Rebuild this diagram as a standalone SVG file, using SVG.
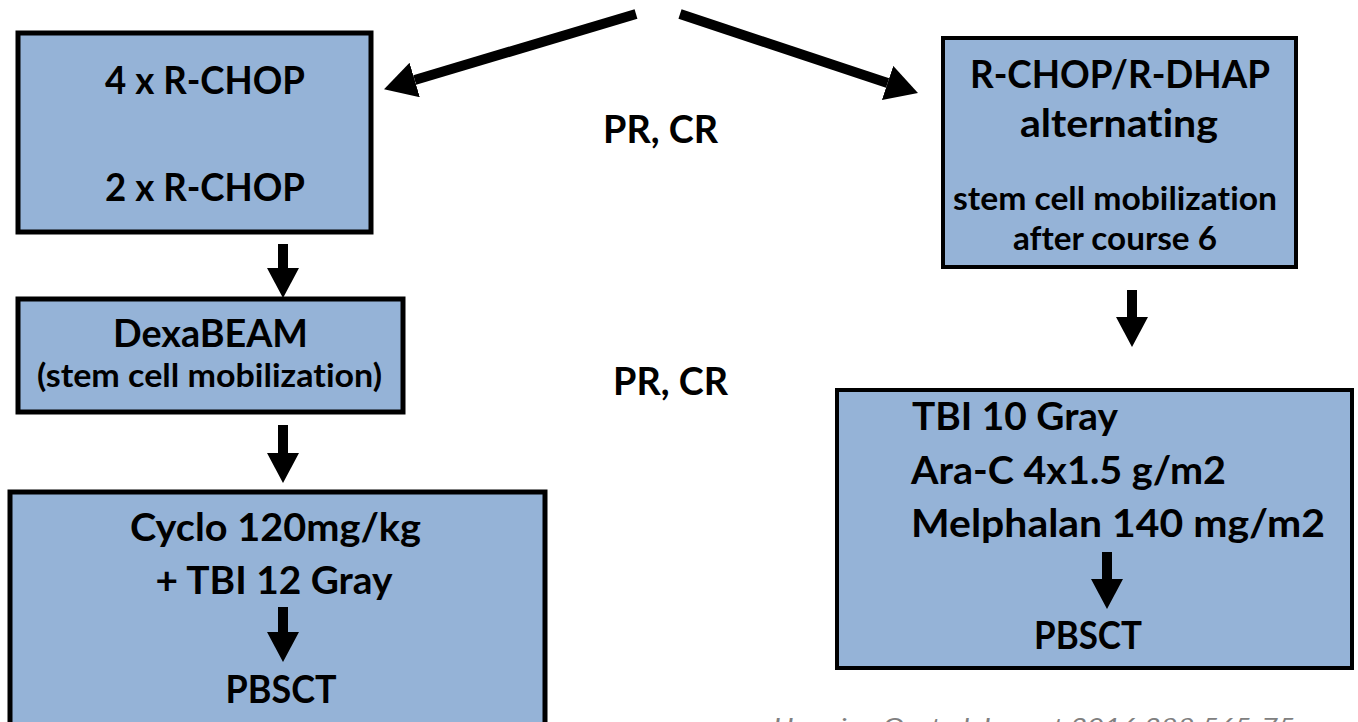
<svg xmlns="http://www.w3.org/2000/svg" width="1358" height="722" viewBox="0 0 1358 722">
  <style>
    .box { fill: #95B3D7; stroke: #000; stroke-width: 5; }
    .box.thin { stroke-width: 4; }
    text { font-variant-ligatures: none; font-feature-settings: "liga" 0, "clig" 0; }
    .t { font-family: Lato, "Liberation Sans", sans-serif; font-weight: 700; font-size: 39px; fill: #000; }
    .s { font-family: Lato, "Liberation Sans", sans-serif; font-weight: 700; font-size: 32px; fill: #000; }
    .c { text-anchor: middle; }
    .cite { font-family: Lato, "Liberation Sans", sans-serif; font-style: italic; font-size: 24px; fill: #808080; }
    .shaft { stroke: #000; stroke-width: 10; fill: none; }
  </style>
  <defs>
    <marker id="head" viewBox="0 0 30 32" refX="0" refY="16" markerWidth="30" markerHeight="32" markerUnits="userSpaceOnUse" orient="auto">
      <path d="M0,0 L30,16 L0,32 Z" fill="#000"/>
    </marker>
    <marker id="headLg" viewBox="0 0 32 36" refX="0" refY="18" markerWidth="32" markerHeight="36" markerUnits="userSpaceOnUse" orient="auto">
      <path d="M0,0 L32,18 L0,36 Z" fill="#000"/>
    </marker>
  </defs>

  <!-- connectors -->
  <g id="connectors">
    <!-- split into the two arms -->
    <line class="shaft" x1="636" y1="14" x2="414.7" y2="80" marker-end="url(#headLg)"/>
    <line class="shaft" x1="680" y1="14" x2="887.6" y2="83" marker-end="url(#headLg)"/>
    <!-- left arm -->
    <line class="shaft" x1="283" y1="244" x2="283" y2="268" marker-end="url(#head)"/>
    <line class="shaft" x1="283" y1="425" x2="283" y2="453" marker-end="url(#head)"/>
    <!-- right arm -->
    <line class="shaft" x1="1132" y1="290" x2="1132" y2="317" marker-end="url(#head)"/>
  </g>

  <g id="rchop">
    <rect class="box" x="18" y="33" width="353" height="199"/>
    <text class="t c" x="205" y="94" textLength="200" lengthAdjust="spacingAndGlyphs">4 x R-CHOP</text>
    <text class="t c" x="205" y="201" textLength="200" lengthAdjust="spacingAndGlyphs">2 x R-CHOP</text>
  </g>

  <g id="dexabeam">
    <rect class="box" x="18" y="299" width="385" height="113"/>
    <text class="t c" x="210.5" y="347" textLength="195" lengthAdjust="spacingAndGlyphs">DexaBEAM</text>
    <text class="s c" x="209.5" y="387" textLength="345" lengthAdjust="spacingAndGlyphs">(stem cell mobilization)</text>
  </g>

  <g id="cyclo-tbi">
    <rect class="box" x="10" y="492" width="535" height="240"/>
    <text class="t c" x="275.5" y="541" textLength="291" lengthAdjust="spacingAndGlyphs">Cyclo 120mg/kg</text>
    <text class="t c" x="274" y="594" textLength="237" lengthAdjust="spacingAndGlyphs">+ TBI 12 Gray</text>
    <line class="shaft" x1="283" y1="607" x2="283" y2="632" marker-end="url(#head)"/>
    <text class="t c" x="281" y="703" textLength="111" lengthAdjust="spacingAndGlyphs">PBSCT</text>
  </g>

  <g id="response-1">
    <text class="t c" x="660.5" y="143" textLength="115" lengthAdjust="spacingAndGlyphs">PR, CR</text>
  </g>
  <g id="response-2">
    <text class="t c" x="670.5" y="395" textLength="115" lengthAdjust="spacingAndGlyphs">PR, CR</text>
  </g>

  <g id="rchop-rdhap">
    <rect class="box thin" x="943" y="38" width="353" height="229"/>
    <text class="t c" x="1120" y="88" textLength="300" lengthAdjust="spacingAndGlyphs">R-CHOP/R-DHAP</text>
    <text class="t c" x="1119" y="137" textLength="198" lengthAdjust="spacingAndGlyphs">alternating</text>
    <text class="s c" x="1115" y="210" textLength="324" lengthAdjust="spacingAndGlyphs">stem cell mobilization</text>
    <text class="s c" x="1115" y="250" textLength="204" lengthAdjust="spacingAndGlyphs">after course 6</text>
  </g>

  <g id="tbi-arac-mel">
    <rect class="box thin" x="837" y="390" width="515" height="278"/>
    <text class="t" x="912" y="430" textLength="206" lengthAdjust="spacingAndGlyphs">TBI 10 Gray</text>
    <text class="t" x="911" y="484" textLength="315" lengthAdjust="spacingAndGlyphs">Ara-C 4x1.5 g/m2</text>
    <text class="t" x="911" y="537" textLength="414" lengthAdjust="spacingAndGlyphs">Melphalan 140 mg/m2</text>
    <line class="shaft" x1="1107" y1="552" x2="1107" y2="579" marker-end="url(#head)"/>
    <text class="t c" x="1088" y="649" textLength="108" lengthAdjust="spacingAndGlyphs">PBSCT</text>
  </g>

  <!-- source line, running off the bottom edge -->
  <g id="citation">
    <text class="cite" x="773" y="735" textLength="522" lengthAdjust="spacingAndGlyphs">Hermine O, et al. Lancet 2016;388:565-75</text>
  </g>
</svg>
